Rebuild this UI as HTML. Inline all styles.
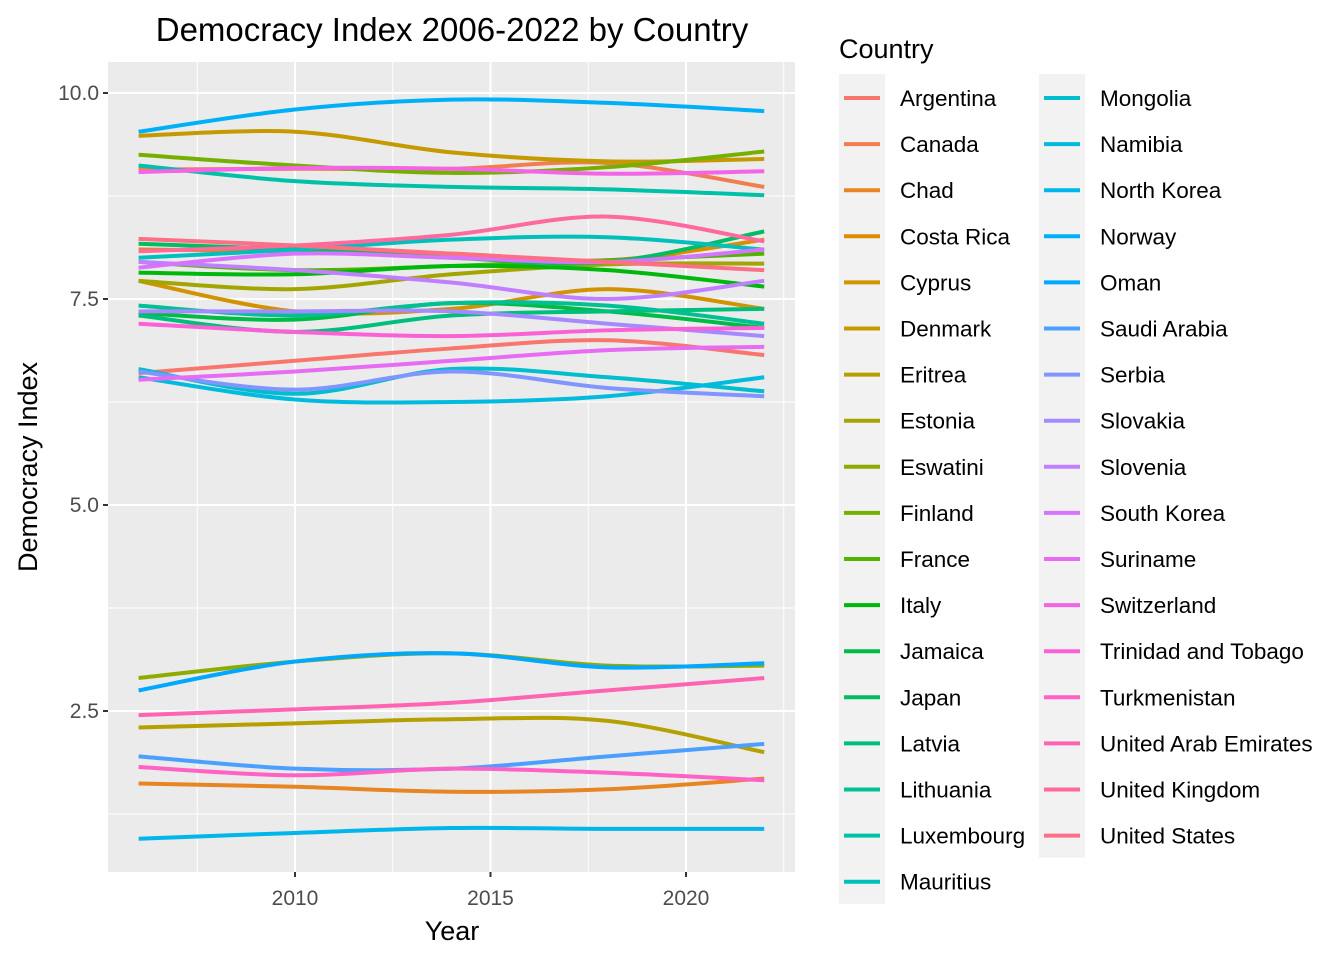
<!DOCTYPE html>
<html><head><meta charset="utf-8">
<style>
body{margin:0;background:#fff;}
svg{display:block;font-family:"Liberation Sans",Arial,sans-serif;}
</style></head>
<body>
<svg id="chart" width="1344" height="960" viewBox="0 0 1344 960">
<rect x="0" y="0" width="1344" height="960" fill="#fff"/>
<rect x="108" y="62" width="687" height="810" fill="#EBEBEB"/>
<g id="grid"></g>
<g id="lines"></g>
<g id="axes"></g>
<g id="legend"></g>
<text x="452" y="41" text-anchor="middle" font-size="33" fill="#000">Democracy Index 2006-2022 by Country</text>
<text x="452" y="940" text-anchor="middle" font-size="27" fill="#000">Year</text>
<text transform="translate(37,467) rotate(-90)" text-anchor="middle" font-size="27" fill="#000">Democracy Index</text>
<text x="839" y="58" font-size="27" fill="#000">Country</text>
</svg>
<script>
const years=[2006,2010,2014,2018,2022];
const vArgentina=[6.6,6.75,6.9,7.0,6.82];
const vCanada=[9.07,9.08,9.08,9.15,8.86];
const vChad=[1.62,1.58,1.52,1.55,1.68];
const vCostaRica=[8.1,8.08,8.05,7.97,8.22];
const vCyprus=[7.72,7.35,7.38,7.62,7.38];
const vDenmark=[9.48,9.53,9.28,9.17,9.2];
const vEritrea=[2.3,2.35,2.4,2.38,2.0];
const vEstonia=[7.72,7.62,7.8,7.92,7.93];
const vEswatini=[2.9,3.1,3.2,3.05,3.05];
const vFinland=[9.25,9.12,9.03,9.1,9.29];
const vFrance=[7.95,7.85,7.9,7.97,8.05];
const vItaly=[7.82,7.8,7.9,7.85,7.65];
const vJamaica=[7.33,7.25,7.45,7.35,7.15];
const vJapan=[8.17,8.1,8.0,7.95,8.32];
const vLatvia=[7.3,7.1,7.3,7.35,7.38];
const vLithuania=[7.42,7.3,7.45,7.42,7.2];
const vLuxembourg=[9.12,8.93,8.86,8.83,8.76];
const vMauritius=[8.0,8.1,8.22,8.25,8.1];
const vMongolia=[6.65,6.35,6.65,6.55,6.38];
const vNamibia=[6.55,6.28,6.25,6.32,6.55];
const vNorthKorea=[0.95,1.02,1.08,1.07,1.07];
const vNorway=[9.53,9.8,9.92,9.88,9.78];
const vOman=[2.75,3.1,3.2,3.03,3.08];
const vSaudi=[1.95,1.8,1.8,1.95,2.1];
const vSerbia=[6.62,6.4,6.62,6.42,6.32];
const vSlovakia=[7.35,7.35,7.35,7.2,7.05];
const vSlovenia=[7.95,7.85,7.7,7.5,7.72];
const vSouthKorea=[7.88,8.05,8.0,7.95,8.1];
const vSuriname=[6.52,6.62,6.75,6.88,6.92];
const vSwitzerland=[9.04,9.09,9.08,9.02,9.05];
const vTrinidad=[7.2,7.1,7.05,7.12,7.15];
const vTurkmenistan=[1.82,1.72,1.8,1.75,1.66];
const vUAE=[2.45,2.52,2.6,2.75,2.9];
const vUK=[8.08,8.15,8.28,8.5,8.2];
const vUS=[8.23,8.15,8.05,7.95,7.85];
const series=[vArgentina,vCanada,vChad,vCostaRica,vCyprus,vDenmark,vEritrea,vEstonia,vEswatini,vFinland,vFrance,vItaly,vJamaica,vJapan,vLatvia,vLithuania,vLuxembourg,vMauritius,vMongolia,vNamibia,vNorthKorea,vNorway,vOman,vSaudi,vSerbia,vSlovakia,vSlovenia,vSouthKorea,vSuriname,vSwitzerland,vTrinidad,vTurkmenistan,vUAE,vUK,vUS];
const xTicks=[2010,2015,2020];
const yTicks=[2.5,5.0,7.5,10.0];
const legendNames=["Argentina","Canada","Chad","Costa Rica","Cyprus","Denmark","Eritrea","Estonia","Eswatini","Finland","France","Italy","Jamaica","Japan","Latvia","Lithuania","Luxembourg","Mauritius","Mongolia","Namibia","North Korea","Norway","Oman","Saudi Arabia","Serbia","Slovakia","Slovenia","South Korea","Suriname","Switzerland","Trinidad and Tobago","Turkmenistan","United Arab Emirates","United Kingdom","United States"];

const NS="http://www.w3.org/2000/svg";
function X(y){return 295+(y-2010)*39.1;}
function Y(v){return 93+(10-v)*82.4;}
function mk(tag,attrs,parent){const e=document.createElementNS(NS,tag);for(const k in attrs)e.setAttribute(k,attrs[k]);parent.appendChild(e);return e;}
function hcl(h){
  const L=65,C=100,hr=h*Math.PI/180;
  const u=C*Math.cos(hr),v=C*Math.sin(hr);
  const Xn=95.047,Yn=100,Zn=108.883;
  const d=Xn+15*Yn+3*Zn,un=4*Xn/d,vn=9*Yn/d;
  const Yv=Yn*Math.pow((L+16)/116,3);
  const up=u/(13*L)+un,vp=v/(13*L)+vn;
  const Xv=Yv*9*up/(4*vp),Zv=Yv*(12-3*up-20*vp)/(4*vp);
  const x=Xv/100,y=Yv/100,z=Zv/100;
  let r=3.2406*x-1.5372*y-0.4986*z,g=-0.9689*x+1.8758*y+0.0415*z,b=0.0557*x-0.2040*y+1.0570*z;
  const gm=c=>{c=c<=0.0031308?12.92*c:1.055*Math.pow(c,1/2.4)-0.055;return Math.round(Math.max(0,Math.min(1,c))*255);};
  return `rgb(${gm(r)},${gm(g)},${gm(b)})`;
}
const n=legendNames.length;
const colors=legendNames.map((_,i)=>hcl(15+i*360/n));

const grid=document.getElementById('grid');
[2007.5,2012.5,2017.5,2022.5].forEach(t=>{const l=mk('line',{x1:X(t),x2:X(t),y1:62,y2:872,stroke:'#fff','stroke-width':1},grid);

});
[1.25,3.75,6.25,8.75].forEach(t=>{const l=mk('line',{x1:108,x2:795,y1:Y(t),y2:Y(t),stroke:'#fff','stroke-width':1},grid);

});
xTicks.forEach(t=>{const l=mk('line',{x1:X(t),x2:X(t),y1:62,y2:872,stroke:'#fff','stroke-width':2},grid);

});
yTicks.forEach(t=>{const l=mk('line',{x1:108,x2:795,y1:Y(t),y2:Y(t),stroke:'#fff','stroke-width':2},grid);

});

const axes=document.getElementById('axes');
xTicks.forEach(t=>{
  mk('line',{x1:X(t),x2:X(t),y1:872,y2:877,stroke:'#333','stroke-width':2},axes);
  const tx=mk('text',{x:X(t),y:905,'text-anchor':'middle','font-size':21,fill:'#4D4D4D'},axes);
  tx.textContent=String(t);
  
  
});
yTicks.forEach(t=>{
  mk('line',{x1:103,x2:108,y1:Y(t),y2:Y(t),stroke:'#333','stroke-width':2},axes);
  const tx=mk('text',{x:99,y:Y(t)+7,'text-anchor':'end','font-size':21,fill:'#4D4D4D'},axes);
  tx.textContent=t.toFixed(1);
  
  
});

function smoothPath(xs,ys){
  const p=xs.map((x,i)=>[X(x),Y(ys[i])]);
  let d=`M${p[0][0]},${p[0][1]}`;
  for(let i=0;i<p.length-1;i++){
    const p0=p[Math.max(0,i-1)],p1=p[i],p2=p[i+1],p3=p[Math.min(p.length-1,i+2)];
    const c1=[p1[0]+(p2[0]-p0[0])/6,p1[1]+(p2[1]-p0[1])/6];
    const c2=[p2[0]-(p3[0]-p1[0])/6,p2[1]-(p3[1]-p1[1])/6];
    d+=` C${c1[0]},${c1[1]} ${c2[0]},${c2[1]} ${p2[0]},${p2[1]}`;
  }
  return d;
}
const lines=document.getElementById('lines');
series.forEach((s,i)=>{
  const p=mk('path',{d:smoothPath(years,s),fill:'none',stroke:colors[i],'stroke-width':4},lines);
  
  
});

const lg=document.getElementById('legend');
const perCol=18;
for(let c=0;c<2;c++){
  const cnt=Math.min(perCol,n-c*perCol);
  const bx=839+c*200;
  mk('rect',{x:bx,y:74,width:46,height:cnt*46.1,fill:'#F2F2F2'},lg);
}
legendNames.forEach((name,i)=>{
  const c=Math.floor(i/perCol),r=i%perCol;
  const bx=839+c*200,cy=74+24+r*46.1;
  const g=mk('g',{},lg);
  
  
  mk('line',{x1:bx+5,x2:bx+41,y1:cy,y2:cy,stroke:colors[i],'stroke-width':4},g);
  const t=mk('text',{x:bx+61,y:cy+8,'font-size':22.5,fill:'#000'},g);
  t.textContent=name;
});
</script>
</body></html>
